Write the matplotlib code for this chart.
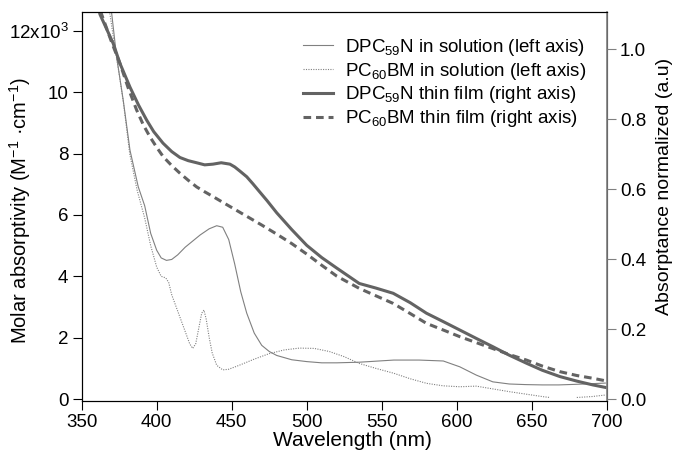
import numpy as np
import matplotlib
matplotlib.use('Agg')
import matplotlib.pyplot as plt
from matplotlib.lines import Line2D

plt.rcParams['font.family'] = ['Liberation Sans', 'DejaVu Sans']
plt.rcParams['mathtext.fontset'] = 'custom'
plt.rcParams['mathtext.rm'] = 'Liberation Sans'
plt.rcParams['mathtext.it'] = 'Liberation Sans:italic'
plt.rcParams['mathtext.bf'] = 'Liberation Sans:bold'

# DPC59N in solution (left axis, x10^3 M-1 cm-1)
dpc_sol_nm = [366, 370, 373.3, 377.7, 382.2, 387.7, 392, 396, 400, 403, 406.5, 410, 414, 419, 424, 429,
              435, 440, 444, 448, 452, 456, 460, 465, 470, 475, 480, 490, 500, 510, 520, 535, 558,
              575, 591, 602, 613, 624, 635, 646, 657, 668, 680, 690, 699]
dpc_sol = [13.5, 12.57, 11.15, 9.74, 8.11, 6.92, 6.3, 5.4, 4.85, 4.6, 4.52, 4.55, 4.7, 4.95, 5.15, 5.35,
           5.55, 5.65, 5.6, 5.2, 4.4, 3.5, 2.8, 2.15, 1.75, 1.55, 1.42, 1.28, 1.22, 1.18, 1.18, 1.2, 1.27,
           1.27, 1.24, 1.05, 0.78, 0.56, 0.49, 0.47, 0.46, 0.46, 0.48, 0.5, 0.52]

# PC60BM in solution (left axis)
pcbm_sol_nm = [365, 369, 372, 375, 378, 382, 387, 392, 396, 400, 403, 406, 408, 410, 413, 416, 419,
               422, 424, 426, 428, 430, 431.5, 433, 435, 437, 440, 444, 448, 455, 465, 475, 485, 495,
               505, 515, 525, 535, 546, 558, 569, 580, 591, 602, 613, 624, 635, 646, 657, 662,
               668, 675, 680, 690, 699]
pcbm_sol = [13.5, 12.5, 11.5, 10.6, 9.6, 8.0, 6.8, 5.9, 5.0, 4.3, 4.0, 3.95, 3.8, 3.4, 3.0, 2.6, 2.2,
            1.8, 1.65, 1.8, 2.3, 2.8, 2.9, 2.6, 2.0, 1.5, 1.1, 0.95, 0.97, 1.1, 1.3, 1.48, 1.6, 1.66,
            1.65, 1.55, 1.38, 1.16, 1.0, 0.84, 0.66, 0.51, 0.43, 0.40, 0.42, 0.33, 0.24, 0.16, 0.08, 0.05,
            np.nan, np.nan, 0.05, 0.08, 0.13]

# DPC59N thin film (right axis, normalized)
dpc_film_nm = [358, 362.2, 371, 375.5, 382.2, 388, 393.3, 398, 404.2, 410, 415.5, 421, 426.6, 432,
               437.5, 443, 448.8, 452, 455.5, 460, 464.1, 468, 473.5, 480, 490, 500, 510, 520, 535,
               546, 557.6, 569, 579.8, 591, 602, 613, 624.2, 635, 646.5, 657, 668.7, 680, 690.8, 699]
dpc_film = [1.18, 1.10, 1.017, 0.96, 0.892, 0.84, 0.798, 0.765, 0.732, 0.708, 0.691, 0.682, 0.676, 0.670,
            0.672, 0.676, 0.672, 0.664, 0.652, 0.636, 0.616, 0.596, 0.568, 0.533, 0.485, 0.44, 0.405, 0.375,
            0.331, 0.318, 0.303, 0.276, 0.246, 0.222, 0.198, 0.174, 0.150, 0.126, 0.103, 0.083, 0.065,
            0.052, 0.041, 0.034]

# PC60BM thin film (right axis, normalized)
pcbm_film_nm = [358, 363.3, 370, 375.5, 381, 386.6, 391, 395.5, 400, 404.4, 410, 415.5, 421, 426.6,
                432, 437.7, 444, 450, 460, 470, 480, 490, 500, 510, 520, 535, 546, 557.6, 569, 579.8,
                591, 602, 613, 624, 635, 646.5, 657, 668.7, 680, 690.8, 699]
pcbm_film = [1.17, 1.10, 1.02, 0.96, 0.89, 0.827, 0.785, 0.75, 0.72, 0.693, 0.668, 0.646, 0.626, 0.607,
             0.593, 0.579, 0.563, 0.548, 0.523, 0.498, 0.472, 0.445, 0.415, 0.383, 0.352, 0.317, 0.296,
             0.274, 0.245, 0.217, 0.198, 0.179, 0.162, 0.145, 0.128, 0.112, 0.095, 0.079, 0.068, 0.060,
             0.053]

thin_color = '#808080'
thick_color = '#636363'
tick_fs = 13.5
label_fs = 14.5

fig = plt.figure(figsize=(6.75, 4.59), dpi=100)
ax = fig.add_axes([0.121, 0.127, 0.778, 0.847])
ax2 = ax.twinx()

ax.plot(dpc_sol_nm, dpc_sol, color=thin_color, lw=0.8, ls='-')
ax.plot(pcbm_sol_nm, pcbm_sol, color=thin_color, lw=0.8, ls=(0, (1, 1.2)))
ax2.plot(dpc_film_nm, dpc_film, color=thick_color, lw=2.2, ls='-')
ax2.plot(pcbm_film_nm, pcbm_film, color=thick_color, lw=2.2, ls=(0, (2.5, 1.6)))

ax.set_xlim(350, 700)
ax.set_ylim(-0.055, 12.62)
ax2.set_ylim(-0.004, 1.107)

ax.set_xticks(np.arange(350, 701, 50))
ax.set_yticks(np.arange(0, 13, 2))
ax.set_yticklabels(['0', '2', '4', '6', '8', '10', '12x10$^3$'])
ax2.set_yticks(np.arange(0, 1.01, 0.2))
ax2.set_yticklabels(['0.0', '0.2', '0.4', '0.6', '0.8', '1.0'])

ax.tick_params(axis='both', direction='out', length=6.5, width=0.8, labelsize=tick_fs, pad=3)
ax2.tick_params(axis='y', direction='out', length=6.5, width=0.8, labelsize=tick_fs, color='#808080', pad=3)
ax2.spines['right'].set_color('#808080')
ax2.spines['right'].set_linewidth(1.2)

ax.set_xlabel('Wavelength (nm)', fontsize=15, labelpad=0)
ax.xaxis.set_label_coords(0.515, -0.077)
ax.set_ylabel('Molar absorptivity (M$^{-1}$ ·cm$^{-1}$)', fontsize=label_fs)
ax.yaxis.set_label_coords(-0.093, 0.49)
ax2.set_ylabel('Absorptance normalized (a.u)', fontsize=14)
ax2.yaxis.set_label_coords(1.093, 0.55)

handles = [
    Line2D([], [], color=thin_color, lw=0.8, ls='-'),
    Line2D([], [], color=thin_color, lw=0.8, ls=(0, (1, 1.2))),
    Line2D([], [], color=thick_color, lw=2.2, ls='-'),
    Line2D([], [], color=thick_color, lw=2.2, ls=(0, (2.5, 1.6))),
]
labels = [
    'DPC$_{59}$N in solution (left axis)',
    'PC$_{60}$BM in solution (left axis)',
    'DPC$_{59}$N thin film (right axis)',
    'PC$_{60}$BM thin film (right axis)',
]
ax2.legend(handles, labels, loc='upper right', bbox_to_anchor=(0.978, 0.96), frameon=False,
           fontsize=13.5, handlelength=1.6, handletextpad=0.6, labelspacing=0.15, borderpad=0)

fig.savefig('out.png', dpi=100)
